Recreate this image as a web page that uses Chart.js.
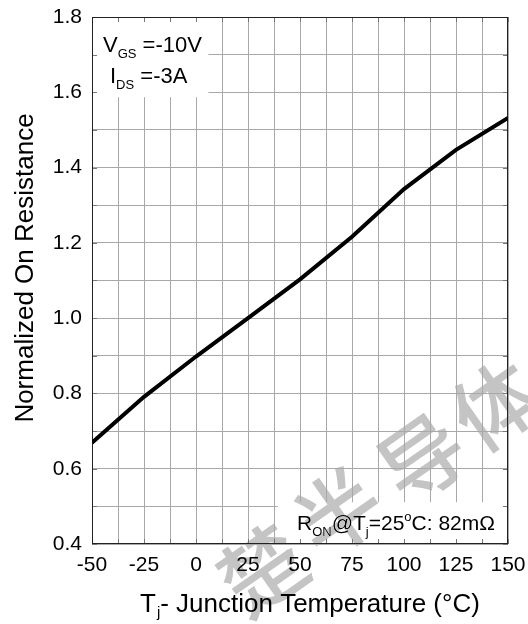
<!DOCTYPE html>
<html>
<head>
<meta charset="utf-8">
<script src="https://cdn.jsdelivr.net/npm/chart.js@4.4.1/dist/chart.umd.min.js"></script>
<style>
  html, body { margin: 0; padding: 0; background: #fff; }
  #wrap { width: 528px; height: 624px; }
</style>
</head>
<body>
<div id="wrap"><canvas id="c" width="528" height="624"></canvas></div>
<script>
// ---- data ----
const temperatures = [-50, -25, 0, 25, 50, 75, 100, 125, 150];
const normalizedRon = [0.669, 0.791, 0.898, 1.0, 1.103, 1.216, 1.343, 1.447, 1.532];
const xTickLabels = ['-50', '-25', '0', '25', '50', '75', '100', '125', '150'];
const yTickLabels = ['0.4', '0.6', '0.8', '1.0', '1.2', '1.4', '1.6', '1.8'];
const yAxisTitle = 'Normalized On Resistance';
const xAxisTitleParts = ['T', 'j', '- Junction Temperature (°C)'];
const condVgs = ['V', 'GS', ' =-10V'];
const condIds = ['I', 'DS', ' =-3A'];
const ronNote = ['R', 'ON', '@T', 'j', '=25', 'o', 'C: 82mΩ'];
const watermark = ['楚', '半', '导', '体'];

const FONT = '"Liberation Sans", Arial, sans-serif';

const overlay = {
  id: 'overlay',
  beforeDatasetsDraw(chart) {
    const ctx = chart.ctx;
    const a = chart.chartArea;
    const xs = chart.scales.x, ys = chart.scales.y;
    ctx.save();
    // white annotation boxes
    ctx.fillStyle = '#fff';
    ctx.fillRect(a.left, a.top, xs.getPixelForValue(6) - a.left, ys.getPixelForValue(1.587) - a.top);
    const bx = xs.getPixelForValue(39.3);
    const by = ys.getPixelForValue(0.511);
    ctx.fillRect(bx, by, a.right - bx, a.bottom - by);
    // inner tick marks
    ctx.strokeStyle = '#777';
    ctx.lineWidth = 1;
    ctx.beginPath();
    xs.ticks.forEach(t => {
      const x = Math.round(xs.getPixelForValue(t.value)) + 0.5;
      ctx.moveTo(x, a.top); ctx.lineTo(x, a.top + 5);
      ctx.moveTo(x, a.bottom); ctx.lineTo(x, a.bottom - 5);
    });
    ys.ticks.forEach(t => {
      const y = Math.round(ys.getPixelForValue(t.value)) + 0.5;
      ctx.moveTo(a.left, y); ctx.lineTo(a.left + 5, y);
      ctx.moveTo(a.right, y); ctx.lineTo(a.right - 5, y);
    });
    ctx.stroke();
    // frame
    ctx.strokeStyle = '#222';
    ctx.strokeRect(Math.round(a.left) + 0.5, Math.round(a.top) + 0.5, Math.round(a.right - a.left) - 1, Math.round(a.bottom - a.top) - 1);
    // condition texts
    ctx.fillStyle = '#000';
    ctx.textBaseline = 'alphabetic';
    ctx.textAlign = 'left';
    function subText(parts, x, y, big, small, modes) {
      parts.forEach((p, i) => {
        const m = modes[i];
        if (m === 'sub') {
          ctx.font = small + 'px ' + FONT;
          ctx.fillText(p, x, y + 6);
        } else if (m === 'sup') {
          ctx.font = small + 'px ' + FONT;
          ctx.fillText(p, x, y - 9);
        } else {
          ctx.font = big + 'px ' + FONT;
          ctx.fillText(p, x, y);
        }
        x += ctx.measureText(p).width;
      });
    }
    subText(condVgs, 103, 52, 22, 13, ['n', 'sub', 'n']);
    subText(condIds, 110, 83, 22, 13, ['n', 'sub', 'n']);
    subText(ronNote, 297, 530, 21, 13, ['n', 'sub', 'n', 'sub', 'n', 'sup', 'n']);
    // y axis title
    ctx.save();
    ctx.translate(33, 268);
    ctx.rotate(-Math.PI / 2);
    ctx.textAlign = 'center';
    ctx.font = '26px ' + FONT;
    ctx.fillText(yAxisTitle, 0, 0);
    ctx.restore();
    // x axis title
    let x = 140;
    ctx.font = '26px ' + FONT;
    ctx.fillText(xAxisTitleParts[0], x, 612);
    x += ctx.measureText(xAxisTitleParts[0]).width;
    ctx.font = '15px ' + FONT;
    ctx.fillText(xAxisTitleParts[1], x + 1, 617);
    x += ctx.measureText(xAxisTitleParts[1]).width + 1;
    ctx.font = '26px ' + FONT;
    ctx.fillText(xAxisTitleParts[2], x, 612);
    ctx.restore();
  },
  afterDraw(chart) {
    const ctx = chart.ctx;
    ctx.save();
    ctx.globalCompositeOperation = 'darken';
    ctx.fillStyle = '#c4c4c4';
    ctx.font = '500 84px "Noto Sans CJK SC", sans-serif';
    ctx.textAlign = 'center';
    ctx.textBaseline = 'middle';
    const centers = [[262, 570], [338, 512], [422, 458], [495, 405]];
    watermark.forEach((ch, i) => {
      ctx.save();
      ctx.translate(centers[i][0], centers[i][1]);
      ctx.rotate(-35 * Math.PI / 180);
      ctx.fillText(ch, 0, 0);
      ctx.restore();
    });
    ctx.restore();
  }
};

function zeroPad(s) { s.paddingLeft = 0; s.paddingRight = 0; s.paddingTop = 0; s.paddingBottom = 0; }

new Chart(document.getElementById('c'), {
  type: 'line',
  data: {
    labels: temperatures,
    datasets: [{
      data: temperatures.map((t, i) => ({ x: t, y: normalizedRon[i] })),
      borderColor: '#000',
      borderWidth: 4,
      pointRadius: 0,
      tension: 0,
      fill: false
    }]
  },
  options: {
    responsive: false,
    animation: false,
    devicePixelRatio: 1,
    layout: { padding: { top: 17, right: 20, left: 0, bottom: 0 } },
    plugins: { legend: { display: false }, tooltip: { enabled: false } },
    scales: {
      x: {
        type: 'linear',
        min: -50, max: 150,
        afterFit(s) { s.height = 80; zeroPad(s); },
        ticks: {
          stepSize: 12.5,
          autoSkip: false,
          maxRotation: 0,
          padding: 9,
          color: '#000',
          font: { family: FONT, size: 21 },
          callback(v) {
            const i = xTickLabels.indexOf(String(v));
            return i >= 0 ? xTickLabels[i] : '';
          }
        },
        grid: { color: '#a8a8a8', lineWidth: 1, drawTicks: false },
        border: { display: false }
      },
      y: {
        type: 'linear',
        min: 0.4, max: 1.8,
        afterFit(s) { s.width = 92; zeroPad(s); },
        ticks: {
          stepSize: 0.1,
          autoSkip: false,
          padding: 10,
          color: '#000',
          font: { family: FONT, size: 21 },
          callback(v) {
            const s = (Math.round(v * 10) / 10).toFixed(1);
            return yTickLabels.includes(s) ? s : '';
          }
        },
        grid: { color: '#a8a8a8', lineWidth: 1, drawTicks: false },
        border: { display: false }
      }
    }
  },
  plugins: [overlay]
});
</script>
</body>
</html>
